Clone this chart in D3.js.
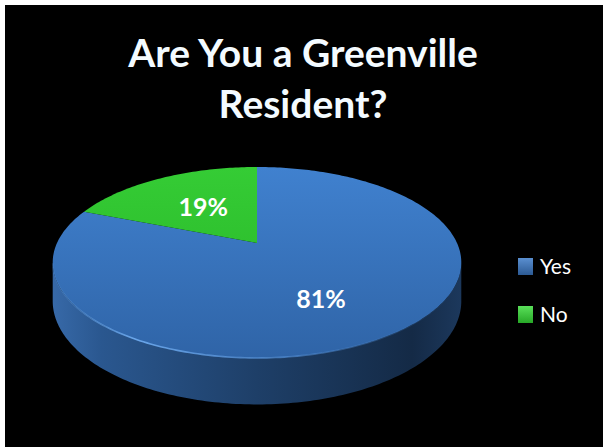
<!DOCTYPE html>
<html>
<head>
<meta charset="utf-8">
<script src="https://cdn.jsdelivr.net/npm/d3@7"></script>
<style>
  html, body { margin: 0; padding: 0; background: #fff; }
  svg { display: block; }
</style>
</head>
<body>
<div id="chart"></div>
<script>
var width = 603;
var height = 447;

// chart data
var categories = ["Yes", "No"];
var values = [81, 19];
var labels = ["81%", "19%"];
var titleLines = ["Are You a Greenville", "Resident?"];

// 3d pie settings (perspective tilted disc)
var cx = 257, cy = 243;
var R = 200;       // horizontal radius
var A = 91.5;      // vertical radius after tilt
var k = 0.204;     // perspective strength
var depth = 37;    // thickness of the disc

function project(theta, rf, h) {
  var z = rf * Math.cos(theta);
  var s = 1 / (1 + k * z);
  return [cx + R * rf * Math.sin(theta) * s, cy + (-A * z + h) * s];
}

var svg = d3.select("#chart")
  .append("svg")
  .attr("width", width)
  .attr("height", height);

var defs = svg.append("defs");

var topGrad = defs.append("linearGradient")
  .attr("id", "topGrad").attr("x1", 0).attr("y1", 0).attr("x2", 0).attr("y2", 1);
topGrad.append("stop").attr("offset", "0%").attr("stop-color", "#4081cf");
topGrad.append("stop").attr("offset", "100%").attr("stop-color", "#2f64a7");

var sideGrad = defs.append("linearGradient")
  .attr("id", "sideGrad").attr("x1", 0).attr("y1", 0).attr("x2", 1).attr("y2", 0);
sideGrad.append("stop").attr("offset", "0%").attr("stop-color", "#3769a8");
sideGrad.append("stop").attr("offset", "12%").attr("stop-color", "#2a578f");
sideGrad.append("stop").attr("offset", "50%").attr("stop-color", "#1e3f68");
sideGrad.append("stop").attr("offset", "88%").attr("stop-color", "#142a46");
sideGrad.append("stop").attr("offset", "100%").attr("stop-color", "#1c385c");

var rimGrad = defs.append("linearGradient")
  .attr("id", "rimGrad").attr("x1", 0).attr("y1", 0).attr("x2", 1).attr("y2", 0);
rimGrad.append("stop").attr("offset", "0%").attr("stop-color", "#5d9be0").attr("stop-opacity", 0.2);
rimGrad.append("stop").attr("offset", "20%").attr("stop-color", "#6aa6ea").attr("stop-opacity", 1);
rimGrad.append("stop").attr("offset", "60%").attr("stop-color", "#4f8ad0").attr("stop-opacity", 0.7);
rimGrad.append("stop").attr("offset", "100%").attr("stop-color", "#3a70b0").attr("stop-opacity", 0);

var greenGrad = defs.append("linearGradient")
  .attr("id", "greenGrad").attr("x1", 0).attr("y1", 0).attr("x2", 0).attr("y2", 1);
greenGrad.append("stop").attr("offset", "0%").attr("stop-color", "#35cc35");
greenGrad.append("stop").attr("offset", "100%").attr("stop-color", "#2fc22f");

var legYes = defs.append("linearGradient")
  .attr("id", "legYes").attr("x1", 0).attr("y1", 0).attr("x2", 0).attr("y2", 1);
legYes.append("stop").attr("offset", "0%").attr("stop-color", "#5a8fd0");
legYes.append("stop").attr("offset", "100%").attr("stop-color", "#2c5a94");
var legNo = defs.append("linearGradient")
  .attr("id", "legNo").attr("x1", 0).attr("y1", 0).attr("x2", 0).attr("y2", 1);
legNo.append("stop").attr("offset", "0%").attr("stop-color", "#5ae05a");
legNo.append("stop").attr("offset", "100%").attr("stop-color", "#27a827");

// black chart area with white frame on top/left
svg.append("rect")
  .attr("x", 5).attr("y", 5)
  .attr("width", width - 5).attr("height", height - 5)
  .attr("fill", "#000");

// title
svg.append("g")
  .selectAll("text")
  .data(titleLines)
  .enter()
  .append("text")
  .attr("x", 303)
  .attr("y", function(d, i) { return 67 + i * 51; })
  .attr("text-anchor", "middle")
  .style("font-family", "Lato, 'Open Sans', sans-serif")
  .style("font-weight", "bold")
  .style("font-size", "39px")
  .style("fill", "#f4fbff")
  .text(function(d) { return d; });

var pie = d3.pie().sort(null).value(function(d) { return d; })(values);

var line = d3.line().curve(d3.curveLinear);
var step = Math.PI / 180;

// side of the disc (only the front half is visible)
var a0 = Math.acos(-k), a1 = 2 * Math.PI - Math.acos(-k);
var sidePts = d3.range(a0, a1, step).concat([a1]).map(function(t) { return project(t, 1, 0); });
var bottomPts = d3.range(a0, a1, step).concat([a1]).reverse().map(function(t) { return project(t, 1, depth); });
svg.append("path")
  .attr("d", line(sidePts.concat(bottomPts)) + "Z")
  .attr("fill", "url(#sideGrad)");

// top face slices
svg.selectAll("path.slice")
  .data(pie)
  .enter()
  .append("path")
  .attr("class", "slice")
  .attr("d", function(d) {
    var angles = d3.range(d.startAngle, d.endAngle, step).concat([d.endAngle]);
    var pts = [project(0, 0, 0)].concat(angles.map(function(t) { return project(t, 1, 0); }));
    return line(pts) + "Z";
  })
  .attr("fill", function(d, i) { return i == 0 ? "url(#topGrad)" : "url(#greenGrad)"; });

// light rim along the front edge
var rimPts = d3.range(a0, a1, step).map(function(t) { return project(t, 1, 0); });
svg.append("path")
  .attr("d", line(rimPts.reverse()))
  .attr("fill", "none")
  .attr("stroke", "url(#rimGrad)")
  .attr("stroke-width", 1.6);

// slice labels
svg.selectAll("text.label")
  .data(pie)
  .enter()
  .append("text")
  .attr("class", "label")
  .attr("transform", function(d) {
    var mid = (d.startAngle + d.endAngle) / 2;
    var p = project(mid, 0.52, 0);
    var z = 0.52 * Math.cos(mid);
    p[1] += Math.max(0, -z) * depth * 0.8;
    return "translate(" + p + ")";
  })
  .attr("text-anchor", "middle")
  .attr("dy", "0.36em")
  .style("font-family", "Lato, 'Open Sans', sans-serif")
  .style("font-weight", "bold")
  .style("font-size", "25px")
  .style("fill", "#fff")
  .text(function(d, i) { return labels[i]; });

// legend
var legend = svg.append("g")
  .selectAll("g")
  .data(categories)
  .enter()
  .append("g")
  .attr("transform", function(d, i) { return "translate(518," + (258 + i * 48) + ")"; });

legend.append("rect")
  .attr("width", 15).attr("height", 17)
  .attr("fill", function(d, i) { return i == 0 ? "url(#legYes)" : "url(#legNo)"; });

legend.append("text")
  .attr("x", 22)
  .attr("y", 16)
  .style("font-family", "Lato, 'Open Sans', sans-serif")
  .style("font-size", "21px")
  .style("fill", "#fff")
  .text(function(d) { return d; });
</script>
</body>
</html>
